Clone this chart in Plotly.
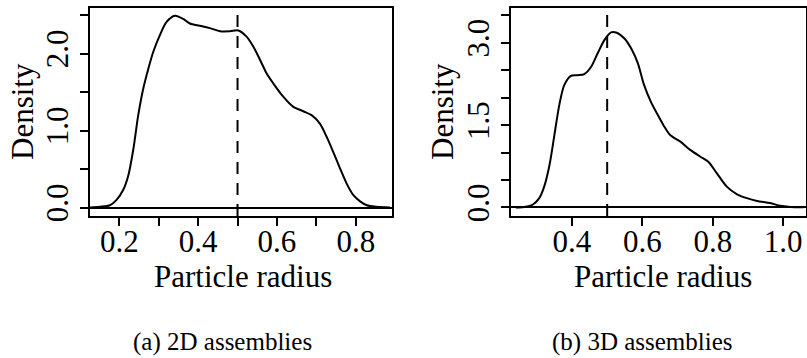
import plotly.graph_objects as go

W, H = 807, 358

# 2D assemblies density
x2d = [0.126, 0.151, 0.176, 0.193, 0.210, 0.223, 0.236, 0.248, 0.261, 0.274, 0.286, 0.303,
       0.320, 0.341, 0.362, 0.379, 0.404, 0.430, 0.456, 0.481, 0.502, 0.523, 0.540, 0.557,
       0.574, 0.591, 0.616, 0.641, 0.667, 0.688, 0.709, 0.726, 0.743, 0.760, 0.777, 0.794,
       0.811, 0.828, 0.853, 0.887]
y2d = [0.0, 0.01, 0.03, 0.10, 0.23, 0.42, 0.77, 1.20, 1.55, 1.81, 2.02, 2.24,
       2.41, 2.49, 2.45, 2.39, 2.36, 2.33, 2.29, 2.29, 2.30, 2.22, 2.09, 1.92,
       1.74, 1.61, 1.44, 1.31, 1.25, 1.20, 1.09, 0.92, 0.72, 0.51, 0.31, 0.16,
       0.08, 0.03, 0.01, 0.0]

# 3D assemblies density
x3d = [0.240, 0.264, 0.288, 0.307, 0.321, 0.336, 0.350, 0.364, 0.378, 0.397, 0.416, 0.435,
       0.454, 0.473, 0.492, 0.511, 0.525, 0.549, 0.568, 0.587, 0.605, 0.624, 0.641, 0.660,
       0.679, 0.708, 0.736, 0.764, 0.788, 0.812, 0.840, 0.869, 0.897, 0.926, 0.963, 0.992,
       1.020, 1.058]
y3d = [0.0, 0.01, 0.05, 0.17, 0.38, 0.77, 1.32, 1.87, 2.23, 2.40, 2.41, 2.43,
       2.56, 2.81, 3.05, 3.19, 3.19, 3.08, 2.90, 2.63, 2.23, 1.93, 1.72, 1.50,
       1.32, 1.20, 1.05, 0.93, 0.83, 0.62, 0.38, 0.24, 0.17, 0.12, 0.08, 0.03,
       0.01, 0.005]

ref_line = 0.5

x_ticks_2d = [0.2, 0.3, 0.4, 0.5, 0.6, 0.7, 0.8]
x_text_2d = ["0.2", "", "0.4", "", "0.6", "", "0.8"]
y_ticks_2d = [0.0, 0.5, 1.0, 1.5, 2.0, 2.5]
y_text_2d = ["0.0", "", "1.0", "", "2.0", ""]

x_ticks_3d = [0.4, 0.6, 0.8, 1.0]
x_text_3d = ["0.4", "0.6", "0.8", "1.0"]
y_ticks_3d = [0.0, 0.5, 1.0, 1.5, 2.0, 2.5, 3.0, 3.5]
y_text_3d = ["0.0", "", "", "1.5", "", "", "3.0", ""]

xlabel = "Particle radius"
ylabel = "Density"
captions = ["(a) 2D assemblies", "(b) 3D assemblies"]

FONT = "Liberation Serif"
FS = 31

def px(x):
    return x / W

def py(y):
    return 1 - y / H

fig = go.Figure()
fig.add_trace(go.Scatter(x=x2d, y=y2d, mode="lines",
                         line=dict(color="black", width=2, shape="spline", smoothing=0.8),
                         xaxis="x", yaxis="y", showlegend=False, hoverinfo="skip"))
fig.add_trace(go.Scatter(x=x3d, y=y3d, mode="lines",
                         line=dict(color="black", width=2, shape="spline", smoothing=0.8),
                         xaxis="x2", yaxis="y2", showlegend=False, hoverinfo="skip"))

common_axis = dict(showgrid=False, showline=True, mirror=True, linecolor="black",
                   linewidth=2, ticks="outside", ticklen=8, tickwidth=2, tickcolor="black",
                   tickfont=dict(family=FONT, size=FS, color="black"), zeroline=False,
                   fixedrange=True, automargin=False)

top, bottom = 7.7, 216
fig.update_layout(
    width=W, height=H,
    margin=dict(l=0, r=0, t=0, b=0, autoexpand=False),
    paper_bgcolor="white", plot_bgcolor="white",
    xaxis=dict(domain=[px(90), px(392)], range=[0.1256, 0.892], anchor="y",
               tickmode="array", tickvals=x_ticks_2d, ticktext=x_text_2d,
               ticklabelstandoff=-11, **common_axis),
    yaxis=dict(domain=[py(bottom), py(top)], range=[-0.110, 2.595], anchor="x",
               tickmode="array", tickvals=y_ticks_2d, ticktext=y_text_2d,
               tickangle=-90, ticklabelstandoff=0, **common_axis),
    xaxis2=dict(domain=[px(511), px(806)], range=[0.2267, 1.065], anchor="y2",
                tickmode="array", tickvals=x_ticks_3d, ticktext=x_text_3d,
                ticklabelstandoff=-11, **common_axis),
    yaxis2=dict(domain=[py(bottom), py(8.3)], range=[-0.155, 3.63], anchor="x2",
                tickmode="array", tickvals=y_ticks_3d, ticktext=y_text_3d,
                tickangle=-90, ticklabelstandoff=0, **common_axis),
)
fig.update_yaxes(zeroline=True, zerolinecolor="black", zerolinewidth=2)

# dashed reference lines at radius 0.5
for xr, yr in (("x", "y"), ("x2", "y2")):
    fig.add_shape(type="line", xref=xr, yref=yr + " domain", x0=ref_line, x1=ref_line,
                  y0=0, y1=1, line=dict(color="black", width=2, dash="12px,9px"))

ann = []
for cx in (242.5, 662.5):
    ann.append(dict(text=xlabel, x=px(cx), y=py(276), xref="paper", yref="paper",
                    showarrow=False, xanchor="center", yanchor="middle",
                    font=dict(family=FONT, size=FS, color="black")))
for cx, cy in ((22, 112), (443, 111)):
    ann.append(dict(text=ylabel, x=px(cx), y=py(cy), xref="paper", yref="paper",
                    showarrow=False, xanchor="center", yanchor="middle", textangle=-90,
                    font=dict(family=FONT, size=FS, color="black")))
for cx, cap in zip((222, 642), captions):
    ann.append(dict(text=cap, x=px(cx), y=py(342), xref="paper", yref="paper",
                    showarrow=False, xanchor="center", yanchor="middle",
                    font=dict(family=FONT, size=25, color="black")))
fig.update_layout(annotations=ann)

fig.write_html("out.html", config={"displayModeBar": False},
               post_script="document.body.style.margin='0';")
